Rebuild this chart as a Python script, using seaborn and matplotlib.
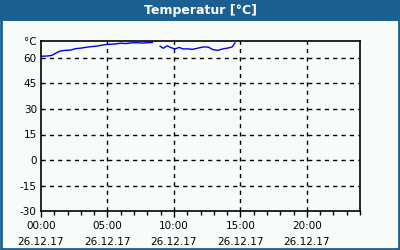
import numpy as np
import pandas as pd
import seaborn as sns
import matplotlib.pyplot as plt
from matplotlib.patches import Rectangle

# hours since 26.12.17 00:00, temperature in °C, logging segment (gap between 1 and 2)
hours = [0.0, 0.5, 0.8, 1.1, 1.4, 1.8, 2.2, 2.6, 3.0, 3.4, 3.8, 4.2, 4.6, 5.0,
         5.5, 6.0, 6.4, 6.8, 7.2, 7.6, 8.0, 8.4, 8.95, 9.2, 9.5, 9.8,
         10.1, 10.4, 10.7, 11.0, 11.4, 11.8, 12.2, 12.6, 12.9, 13.3, 13.7,
         14.1, 14.4, 14.6]
temps = [61.0, 61.2, 61.5, 62.8, 64.0, 64.5, 64.6, 65.5, 65.8, 66.3, 66.7,
         67.0, 67.6, 68.0, 68.2, 68.7, 68.5, 68.9, 69.0, 68.8, 69.0, 69.1,
         67.0, 65.7, 67.2, 66.0, 65.4, 66.2, 65.3, 65.4, 65.1, 65.8,
         66.5, 66.4, 65.0, 64.5, 65.4, 65.9, 66.6, 69.0]
segment = [1] * 22 + [2] * 18
x_ticks = [0, 5, 10, 15, 20]
x_labels = ["00:00\n26.12.17", "05:00\n26.12.17", "10:00\n26.12.17",
            "15:00\n26.12.17", "20:00\n26.12.17"]
y_ticks = [-30, -15, 0, 15, 30, 45, 60, 70]
y_labels = ["-30", "-15", "0", "15", "30", "45", "60", "°C"]

df = pd.DataFrame({"hour": hours, "temp": temps, "segment": segment})

sns.set_theme(style="ticks")
plt.rcParams['font.family'] = ['DejaVu Sans']
bg = "#f8fcf8"
frame = "#1c6093"

fig = plt.figure(figsize=(4, 2.5), dpi=100, facecolor=bg)
ax = fig.add_axes([41 / 400, 1 - 211 / 250, 319 / 400, 170 / 250])
ax.set_facecolor(bg)

sns.lineplot(data=df, x="hour", y="temp", units="segment", ax=ax,
             color="#0000ee", linewidth=1, estimator=None, sort=False)

ax.set_xlim(0, 24)
ax.set_ylim(-30, 70)
ax.set_xticks(x_ticks)
ax.set_xticklabels(x_labels, fontsize=7.5, linespacing=1.75, color="black")
ax.set_xticks(range(0, 25), minor=True)
ax.set_yticks(y_ticks)
ax.set_yticklabels(y_labels, fontsize=7.5, color="black")
ax.set_xlabel("")
ax.set_ylabel("")

ax.tick_params(axis="x", which="major", direction="out", length=4, width=1,
               color="black", pad=3, bottom=True, top=False)
ax.tick_params(axis="x", which="minor", direction="out", length=3, width=1,
               color="black", bottom=True, top=False)
ax.tick_params(axis="y", which="both", length=0, pad=3, left=False, right=False)

for v in x_ticks[1:]:
    ax.axvline(v, color="black", linewidth=1, linestyle=(0, (3, 3)))
for v in [-15, 0, 15, 30, 45, 60]:
    ax.axhline(v, color="black", linewidth=1, linestyle=(0, (3, 3)))

for s in ax.spines.values():
    s.set_color("black")
    s.set_linewidth(1.2)
    s.set_visible(True)

# title bar and outer frame
fig.patches.append(Rectangle((0, 1 - 21 / 250), 1, 21 / 250, transform=fig.transFigure,
                             facecolor=frame, edgecolor="none", zorder=0))
fig.patches.append(Rectangle((1 / 400, 1 / 250), 398 / 400, 248 / 250,
                             transform=fig.transFigure, facecolor="none",
                             edgecolor=frame, linewidth=2, zorder=5))
fig.text(0.5, 1 - 10.5 / 250, "Temperatur [°C]", color="white", fontsize=9,
         fontweight="bold", ha="center", va="center")

fig.savefig("out.png", dpi=100, facecolor=bg)
